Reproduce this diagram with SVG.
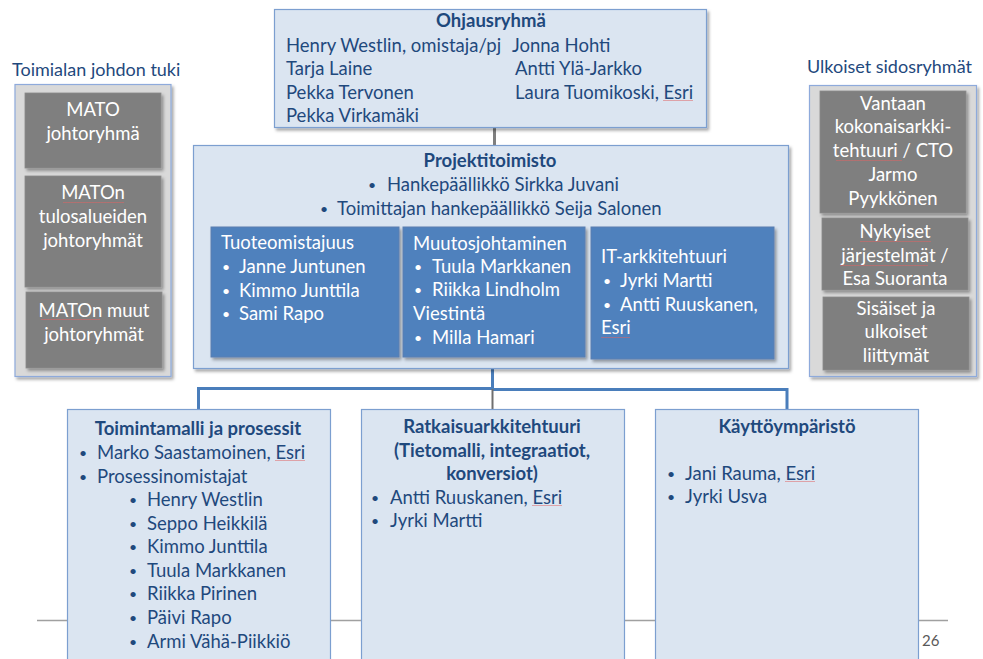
<svg xmlns="http://www.w3.org/2000/svg" width="983" height="659" viewBox="0 0 983 659">
<defs>
<filter id="sh" x="-5%" y="-5%" width="115%" height="120%"><feDropShadow dx="2" dy="2.5" stdDeviation="1.5" flood-color="#000" flood-opacity="0.35"/></filter>
<pattern id="sq" width="3" height="3" patternUnits="userSpaceOnUse"><path d="M0,2 L0.75,1 L1.5,2 L2.25,1 L3,2" fill="none" stroke="#e06060" stroke-width="0.6" stroke-opacity="0.8"/></pattern>
</defs>
<style>
.t{font-family:Lato,"Open Sans","Liberation Sans",sans-serif;font-size:18.5px;fill:#1f497d}
.u{font-size:14px}
.b{font-weight:bold}
.w{fill:#fff}
.c{text-anchor:middle}
.lb{fill:#dbe5f1;stroke:#7c9fd0;stroke-width:1.2}
.db{fill:#4f81bd;stroke:#5a7fb0;stroke-width:1}
.gb{fill:#7f7f7f;stroke:#8a8a8a;stroke-width:0.8}
.pn{fill:#d9d9d9;stroke:#8eaadb;stroke-width:1.2}
.sq{fill:url(#sq)}
</style>
<rect width="983" height="659" fill="#fff"/>
<line x1="37" y1="620.5" x2="948" y2="620.5" stroke="#a0a0a0" stroke-width="1.5"/>
<text class="t" x="922" y="646" style="font-size:15px;fill:#595959">26</text>

<g id="connectors" fill="none">
<line x1="494.5" y1="128" x2="494.5" y2="145" stroke="#7f7f7f" stroke-width="3"/>
<path d="M198.5,409 V388.5 H492.5 V369" stroke="#4a7ebb" stroke-width="3"/>
<path d="M492.5,389.5 H787 V409" stroke="#4a7ebb" stroke-width="3"/>
<line x1="492.5" y1="389" x2="492.5" y2="409" stroke="#6f6f6f" stroke-width="2"/>
</g>

<g id="ohjausryhma">
<rect class="lb" x="274.5" y="9.5" width="432" height="118" filter="url(#sh)"/>
<text class="t b c" x="491" y="27">Ohjausryhmä</text>
<text class="t" x="286" y="51.5">Henry Westlin, omistaja/pj</text>
<text class="t" x="286" y="75">Tarja Laine</text>
<text class="t" x="286" y="98.5">Pekka Tervonen</text>
<text class="t" x="286" y="122">Pekka Virkamäki</text>
<text class="t" x="512" y="51.5">Jonna Hohti</text>
<text class="t" x="515" y="75">Antti Ylä-Jarkko</text>
<text class="t" x="515" y="98.5">Laura Tuomikoski, Esri</text>
<rect class="sq" x="663" y="100" width="30" height="3"/>
</g>

<g id="projektitoimisto">
<rect class="lb" x="193.5" y="145.5" width="595" height="223" filter="url(#sh)"/>
<text class="t b c" x="490" y="167">Projektitoimisto</text>
<text class="t u" x="368" y="190">•</text>
<text class="t" x="387" y="191">Hankepäällikkö Sirkka Juvani</text>
<text class="t u" x="320" y="214">•</text>
<text class="t" x="337" y="215">Toimittajan hankepäällikkö Seija Salonen</text>
</g>

<g id="tuoteomistajuus">
<rect class="db" x="211" y="227" width="188" height="130" filter="url(#sh)"/>
<text class="t w" x="221" y="249">Tuoteomistajuus</text>
<text class="t w u" x="222" y="272">•</text><text class="t w" x="239" y="273">Janne Juntunen</text>
<text class="t w u" x="222" y="296">•</text><text class="t w" x="239" y="297">Kimmo Junttila</text>
<text class="t w u" x="222" y="319">•</text><text class="t w" x="239" y="320">Sami Rapo</text>
</g>

<g id="muutosjohtaminen">
<rect class="db" x="403" y="227" width="182" height="130" filter="url(#sh)"/>
<text class="t w" x="413" y="250">Muutosjohtaminen</text>
<text class="t w u" x="414" y="272">•</text><text class="t w" x="432" y="273">Tuula Markkanen</text>
<text class="t w u" x="414" y="295">•</text><text class="t w" x="432" y="296">Riikka Lindholm</text>
<text class="t w" x="413" y="320">Viestintä</text>
<text class="t w u" x="414" y="343">•</text><text class="t w" x="432" y="344">Milla Hamari</text>
</g>

<g id="it-arkkitehtuuri">
<rect class="db" x="591" y="227" width="183" height="132" filter="url(#sh)"/>
<text class="t w" x="601" y="263">IT-arkkitehtuuri</text>
<text class="t w u" x="603" y="286">•</text><text class="t w" x="620" y="287">Jyrki Martti</text>
<text class="t w u" x="603" y="310">•</text><text class="t w" x="620" y="311">Antti Ruuskanen,</text>
<text class="t w" x="601" y="334">Esri</text>
<rect class="sq" x="601" y="336" width="29" height="3"/>
</g>

<g id="toimialan-johdon-tuki">
<text class="t" x="12" y="76" style="font-size:18px">Toimialan johdon tuki</text>
<rect class="pn" x="15" y="84.5" width="156" height="292" filter="url(#sh)"/>
</g>
<g id="mato-johtoryhma">
<rect class="gb" x="25" y="93" width="136" height="75" filter="url(#sh)"/>
<text class="t w c" x="93" y="116">MATO</text>
<text class="t w c" x="93" y="140">johtoryhmä</text>
</g>
<g id="maton-tulosalueiden">
<rect class="gb" x="25" y="176" width="136" height="111" filter="url(#sh)"/>
<text class="t w c" x="93" y="199">MATOn</text>
<text class="t w c" x="93" y="223">tulosalueiden</text>
<text class="t w c" x="93" y="247">johtoryhmät</text>
<rect class="sq" x="63" y="200" width="61" height="3"/>
</g>
<g id="maton-muut">
<rect class="gb" x="26" y="292" width="136" height="76" filter="url(#sh)"/>
<text class="t w c" x="94" y="317">MATOn muut</text>
<text class="t w c" x="94" y="341">johtoryhmät</text>
<rect class="sq" x="41" y="318" width="59" height="3"/>
</g>

<g id="ulkoiset-sidosryhmat">
<text class="t" x="807" y="73" style="font-size:18px">Ulkoiset sidosryhmät</text>
<rect class="pn" x="809.5" y="85.5" width="167" height="291" filter="url(#sh)"/>
</g>
<g id="vantaan">
<rect class="gb" x="820" y="91" width="146" height="122" filter="url(#sh)"/>
<text class="t w c" x="893" y="110">Vantaan</text>
<text class="t w c" x="893" y="133">kokonaisarkki-</text>
<text class="t w c" x="893" y="157">tehtuuri / CTO</text>
<text class="t w c" x="893" y="181">Jarmo</text>
<text class="t w c" x="893" y="205">Pyykkönen</text>
<rect class="sq" x="836" y="158" width="66" height="3"/>
</g>
<g id="nykyiset">
<rect class="gb" x="822" y="218" width="146" height="72" filter="url(#sh)"/>
<text class="t w c" x="895" y="238">Nykyiset</text>
<text class="t w c" x="895" y="262">järjestelmät /</text>
<text class="t w c" x="895" y="285">Esa Suoranta</text>
<rect class="sq" x="860" y="239" width="71" height="3"/>
<rect class="sq" x="840" y="263" width="88" height="3"/>
</g>
<g id="sisaiset">
<rect class="gb" x="823" y="297" width="146" height="73" filter="url(#sh)"/>
<text class="t w c" x="896" y="315">Sisäiset ja</text>
<text class="t w c" x="896" y="338">ulkoiset</text>
<text class="t w c" x="896" y="362">liittymät</text>
</g>

<g id="toimintamalli">
<rect class="lb" x="67.5" y="409.5" width="263" height="262"/>
<text class="t b c" x="198" y="435">Toimintamalli ja prosessit</text>
<text class="t u" x="79" y="458">•</text><text class="t" x="97" y="459">Marko Saastamoinen, Esri</text>
<text class="t u" x="79" y="482">•</text><text class="t" x="97" y="483">Prosessinomistajat</text>
<text class="t u" x="129" y="505">•</text><text class="t" x="147" y="506">Henry Westlin</text>
<text class="t u" x="129" y="529">•</text><text class="t" x="147" y="530">Seppo Heikkilä</text>
<text class="t u" x="129" y="552">•</text><text class="t" x="147" y="553">Kimmo Junttila</text>
<text class="t u" x="129" y="576">•</text><text class="t" x="147" y="577">Tuula Markkanen</text>
<text class="t u" x="129" y="599">•</text><text class="t" x="147" y="600">Riikka Pirinen</text>
<text class="t u" x="129" y="623">•</text><text class="t" x="147" y="624">Päivi Rapo</text>
<text class="t u" x="129" y="647">•</text><text class="t" x="147" y="648">Armi Vähä-Piikkiö</text>
<rect class="sq" x="275" y="460" width="30" height="3"/>
</g>

<g id="ratkaisuarkkitehtuuri">
<rect class="lb" x="361.5" y="409.5" width="263" height="262"/>
<text class="t b c" x="492" y="433">Ratkaisuarkkitehtuuri</text>
<text class="t b c" x="492" y="457">(Tietomalli, integraatiot,</text>
<text class="t b c" x="492" y="480">konversiot)</text>
<text class="t u" x="371" y="503">•</text><text class="t" x="390" y="504">Antti Ruuskanen, Esri</text>
<text class="t u" x="371" y="526">•</text><text class="t" x="390" y="527">Jyrki Martti</text>
<rect class="sq" x="532" y="505" width="30" height="3"/>
</g>

<g id="kayttoymparisto">
<rect class="lb" x="655.5" y="409.5" width="263" height="262"/>
<text class="t b c" x="787" y="433">Käyttöympäristö</text>
<text class="t u" x="667" y="479">•</text><text class="t" x="685" y="480">Jani Rauma, Esri</text>
<text class="t u" x="667" y="502">•</text><text class="t" x="685" y="503">Jyrki Usva</text>
<rect class="sq" x="785" y="481" width="30" height="3"/>
</g>
</svg>
